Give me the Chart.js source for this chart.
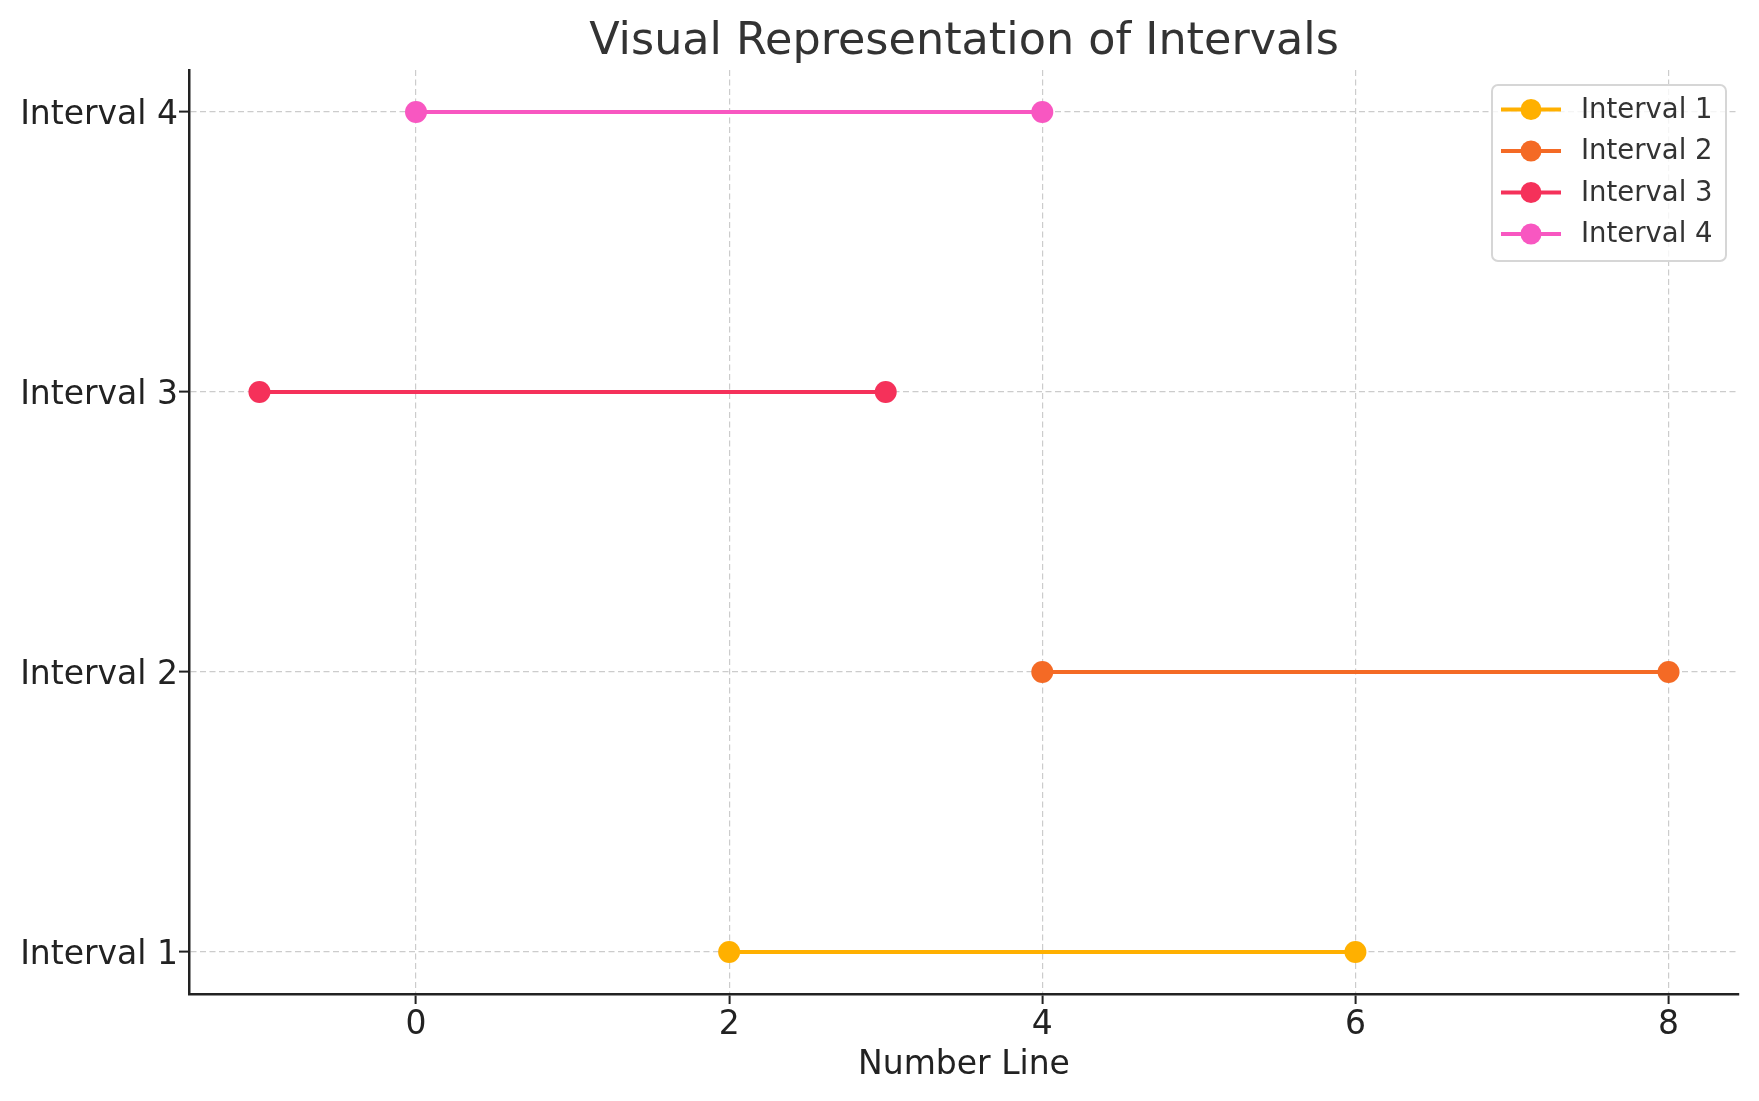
<!DOCTYPE html>
<html>
<head>
<meta charset="utf-8">
<script src="https://cdn.jsdelivr.net/npm/chart.js@4/dist/chart.umd.min.js"></script>
<style>
  html, body { margin:0; padding:0; background:#fff; }
  #wrap { width:1759px; height:1101px; }
</style>
</head>
<body>
<div id="wrap"><canvas id="grafico" width="1759" height="1101"></canvas></div>
<script>
// datos de los intervalos
const etiquetas = ["Interval 1", "Interval 2", "Interval 3", "Interval 4"];
const inicios = [2, 4, -1, 0];
const finales = [6, 8, 3, 4];
const colores = ["#FFB000", "#F46A25", "#F5315A", "#F857C1"];
const ticksX = [0, 2, 4, 6, 8];
const ticksY = [0, 1, 2, 3];
const titulo = "Visual Representation of Intervals";
const tituloX = "Number Line";

const FUENTE = "'DejaVu Sans', sans-serif";

const datasets = etiquetas.map((lbl, i) => ({
    label: lbl,
    data: [{x: inicios[i], y: i}, {x: finales[i], y: i}],
    showLine: true,
    borderColor: colores[i],
    backgroundColor: colores[i],
    borderWidth: 4,
    pointRadius: 11,
    pointHoverRadius: 11,
    pointBackgroundColor: colores[i],
    pointBorderColor: colores[i],
    pointBorderWidth: 0
}));

// titulo y leyenda dibujados a mano (estilo matplotlib)
const pluginExtra = {
    id: "extra",
    afterDraw(chart){
        const ctx = chart.ctx;
        const ca = chart.chartArea;
        ctx.save();
        // titulo
        ctx.fillStyle = "#333333";
        ctx.font = "44.5px " + FUENTE;
        ctx.textAlign = "center";
        ctx.textBaseline = "alphabetic";
        ctx.fillText(titulo, (ca.left + ca.right) / 2, 54);

        // leyenda
        const bx = 1492, by = 85, bw = 234, bh = 176, r = 6;
        ctx.beginPath();
        ctx.roundRect(bx, by, bw, bh, r);
        ctx.fillStyle = "rgba(255,255,255,0.8)";
        ctx.fill();
        ctx.lineWidth = 2;
        ctx.strokeStyle = "#d6d6d6";
        ctx.stroke();

        ctx.font = "27.5px " + FUENTE;
        ctx.textAlign = "left";
        ctx.textBaseline = "middle";
        chart.data.datasets.forEach((ds, i) => {
            const y = 109.5 + i * 41.5;
            ctx.strokeStyle = ds.borderColor;
            ctx.lineWidth = 4;
            ctx.beginPath();
            ctx.moveTo(1501, y);
            ctx.lineTo(1561, y);
            ctx.stroke();
            ctx.fillStyle = ds.borderColor;
            ctx.beginPath();
            ctx.arc(1531, y, 10.5, 0, Math.PI * 2);
            ctx.fill();
            ctx.fillStyle = "#333333";
            ctx.fillText(ds.label, 1581, y + 1);
        });
        ctx.restore();
    }
};

const gridComun = {
    color: "#cccccc",
    lineWidth: 1.2,
    drawTicks: true,
    tickLength: 10,
    tickColor: "#222222",
    tickWidth: 2,
    tickBorderDash: []
};
const bordeComun = { display: true, color: "#222222", width: 2.5, dash: [6, 3.5] };

new Chart(document.getElementById("grafico").getContext("2d"), {
    type: "scatter",
    data: { datasets },
    plugins: [pluginExtra],
    options: {
        responsive: false,
        animation: false,
        devicePixelRatio: 1,
        layout: { padding: { left: 0, right: 20, top: 70, bottom: 0 } },
        plugins: {
            legend: { display: false },
            title: { display: false },
            tooltip: { enabled: false }
        },
        scales: {
            x: {
                type: "linear",
                min: -1.45,
                max: 8.45,
                afterBuildTicks: s => { s.ticks = ticksX.map(v => ({value: v})); },
                afterFit: s => { s.height = 107; },
                grid: gridComun,
                border: bordeComun,
                ticks: {
                    color: "#222222",
                    font: { family: FUENTE, size: 33 },
                    padding: 2,
                    maxRotation: 0
                },
                title: {
                    display: true,
                    text: tituloX,
                    color: "#222222",
                    font: { family: FUENTE, size: 33 },
                    padding: { top: 15.5, bottom: 15.5 }
                }
            },
            y: {
                type: "linear",
                min: -0.15,
                max: 3.15,
                afterBuildTicks: s => { s.ticks = ticksY.map(v => ({value: v})); },
                afterFit: s => { s.width = 189; },
                grid: gridComun,
                border: bordeComun,
                ticks: {
                    color: "#222222",
                    font: { family: FUENTE, size: 33 },
                    padding: 1,
                    labelOffset: 3,
                    callback: v => etiquetas[v] || ""
                }
            }
        }
    }
});
</script>
</body>
</html>
